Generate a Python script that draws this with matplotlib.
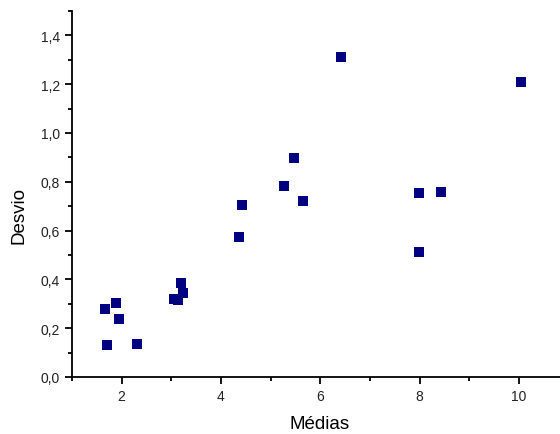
import matplotlib
matplotlib.use("Agg")
import matplotlib.pyplot as plt
from matplotlib.ticker import MultipleLocator, FuncFormatter

plt.rcParams['font.family'] = ['Liberation Sans', 'DejaVu Sans']

medias = [1.67, 1.88, 1.94, 1.71, 2.30, 3.06, 3.14, 3.19, 3.24, 4.36, 4.42,
          5.27, 5.47, 5.65, 6.41, 10.04, 7.99, 8.44, 7.98]
desvio = [0.278, 0.304, 0.237, 0.130, 0.135, 0.319, 0.315, 0.387, 0.343, 0.575, 0.706,
          0.784, 0.899, 0.722, 1.312, 1.211, 0.754, 0.758, 0.512]

fig = plt.figure(figsize=(5.6, 4.35), dpi=100)
ax = fig.add_axes([72/560, 57/435, 488/560, 366/435])
ax.scatter(medias, desvio, marker='s', s=50, color='#000080', linewidths=0, zorder=3)

ax.set_xlim(1.0, 10.83)
ax.set_ylim(0.0, 1.5)
ax.spines['top'].set_visible(False)
ax.spines['right'].set_visible(False)
for sp in ('left', 'bottom'):
    ax.spines[sp].set_linewidth(1.3)

ax.xaxis.set_major_locator(MultipleLocator(2))
ax.xaxis.set_minor_locator(MultipleLocator(1))
ax.yaxis.set_major_locator(MultipleLocator(0.2))
ax.yaxis.set_minor_locator(MultipleLocator(0.1))
ax.yaxis.set_major_formatter(FuncFormatter(lambda v, p: f"{v:.1f}".replace('.', ',')))
ax.xaxis.set_major_formatter(FuncFormatter(lambda v, p: f"{v:g}"))
ax.tick_params(which='major', direction='out', length=5, width=1.3, labelsize=10, labelcolor='#222222')
ax.tick_params(which='minor', direction='out', length=3, width=1.3)

ax.set_xlabel('Médias', fontsize=13.5, va='center')
ax.set_ylabel('Desvio', fontsize=13.5, va='center')
ax.xaxis.set_label_coords(0.508, -0.128)
ax.yaxis.set_label_coords(-0.1076, 0.443)

fig.savefig('out.png', dpi=100)
